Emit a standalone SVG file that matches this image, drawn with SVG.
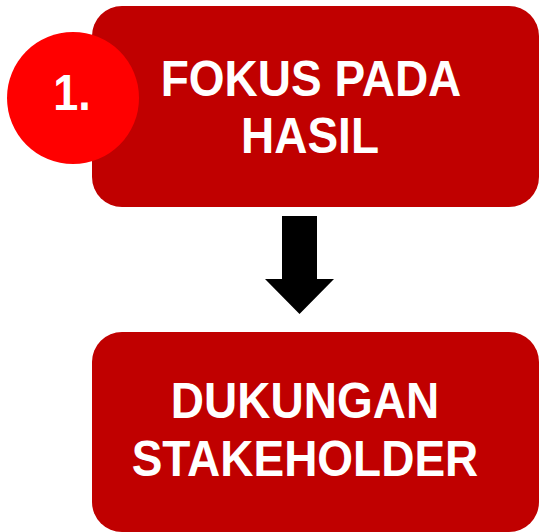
<svg xmlns="http://www.w3.org/2000/svg" width="539" height="532" viewBox="0 0 539 532">
<style>
.box{fill:#C00000}
.t{font-family:"Liberation Sans",Arial,sans-serif;font-weight:bold;fill:#FFFFFF;text-anchor:middle;font-size:50px}
</style>
<rect width="539" height="532" fill="#FFFFFF"/>
<g id="node-fokus">
<rect class="box" x="92" y="6" width="447" height="201" rx="30" ry="30"/>
<text class="t" transform="translate(311,96) scale(0.92,1)">FOKUS PADA</text>
<text class="t" transform="translate(310,153) scale(0.92,1)">HASIL</text>
</g>
<g id="node-number">
<circle cx="73" cy="98" r="66" fill="#FF0000"/>
<text class="t" transform="translate(72,110) scale(0.9,1)" font-size="54">1.</text>
</g>
<g id="connectors">
<polygon points="282,216 317,216 317,279 334,279 299.5,314 265,279 282,279" fill="#000000"/>
</g>
<g id="node-dukungan">
<rect class="box" x="92" y="332" width="447" height="200" rx="30" ry="30"/>
<text class="t" transform="translate(305,418) scale(0.92,1)">DUKUNGAN</text>
<text class="t" transform="translate(305,476) scale(0.92,1)">STAKEHOLDER</text>
</g>
</svg>
